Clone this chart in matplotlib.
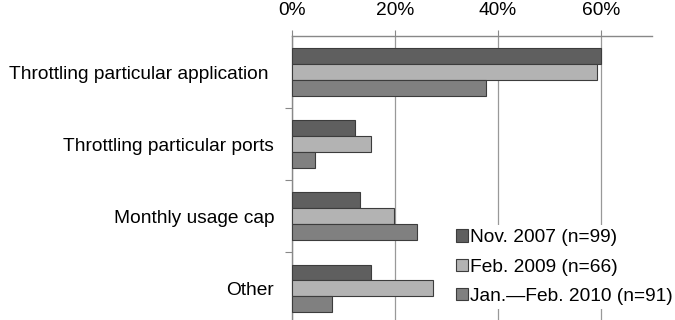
import numpy as np
import matplotlib
matplotlib.use("Agg")
import matplotlib.pyplot as plt
import matplotlib.transforms as mtransforms
from matplotlib.ticker import PercentFormatter

plt.rcParams['font.family'] = ['Liberation Sans', 'DejaVu Sans']

categories = ["Throttling particular application", "Throttling particular ports",
              "Monthly usage cap", "Other"]
series_names = ["Nov. 2007 (n=99)", "Feb. 2009 (n=66)", "Jan.\u2014Feb. 2010 (n=91)"]
nov_2007 = [0.60, 0.123, 0.133, 0.153]
feb_2009 = [0.593, 0.153, 0.198, 0.274]
jan_feb_2010 = [0.376, 0.045, 0.243, 0.078]
x_ticks = [0, 0.2, 0.4, 0.6]

colors = ["#5f5f5f", "#b3b3b3", "#808080"]
edge = "#3c3c3c"

fig = plt.figure(figsize=(6.75, 3.2), dpi=100)
ax = fig.add_axes([292 / 675, -4.4 / 320, 360.5 / 675, 288.4 / 320])

y = np.arange(len(categories))
h = 0.22
for i, (vals, name) in enumerate(zip([nov_2007, feb_2009, jan_feb_2010], series_names)):
    ax.barh(y + (i - 1) * h, vals, height=h, color=colors[i], edgecolor=edge,
            linewidth=0.8, label=name, zorder=3)

ax.set_xlim(0, 0.7)
ax.set_ylim(3.5, -0.5)
ax.xaxis.tick_top()
ax.set_xticks(x_ticks)
ax.xaxis.set_major_formatter(PercentFormatter(1.0, decimals=0))
ax.set_yticks(y)
ax.set_yticklabels(categories)
ax.set_yticks([0.5, 1.5, 2.5], minor=True)
ax.tick_params(axis='y', which='major', length=0, pad=12.8, labelsize=13.8)
ax.tick_params(axis='y', which='minor', length=5, color='#888888', width=0.8)
ax.tick_params(axis='x', length=4, color='#888888', width=0.8, pad=8, labelsize=13.8)

# the long first label sits a little further left in the original
first = ax.get_yticklabels()[0]
first.set_transform(first.get_transform() +
                    mtransforms.ScaledTranslation(-6 / 100, 0, fig.dpi_scale_trans))

ax.grid(axis='x', color='#999999', linewidth=0.9, zorder=0)
for s in ['right', 'bottom']:
    ax.spines[s].set_visible(False)
for s in ['top', 'left']:
    ax.spines[s].set_color('#888888')
    ax.spines[s].set_linewidth(1.0)

leg = ax.legend(loc='center left', bbox_to_anchor=(452 / 675, 53 / 320),
                bbox_transform=fig.transFigure, frameon=True, fancybox=False,
                fontsize=13.8, handlelength=0.62, handleheight=0.62,
                handletextpad=0.1, labelspacing=0.64, borderpad=0.2,
                borderaxespad=0)
leg.get_frame().set_edgecolor('none')
leg.get_frame().set_facecolor('white')
leg.get_frame().set_alpha(1)

fig.savefig("out.png", dpi=100)
